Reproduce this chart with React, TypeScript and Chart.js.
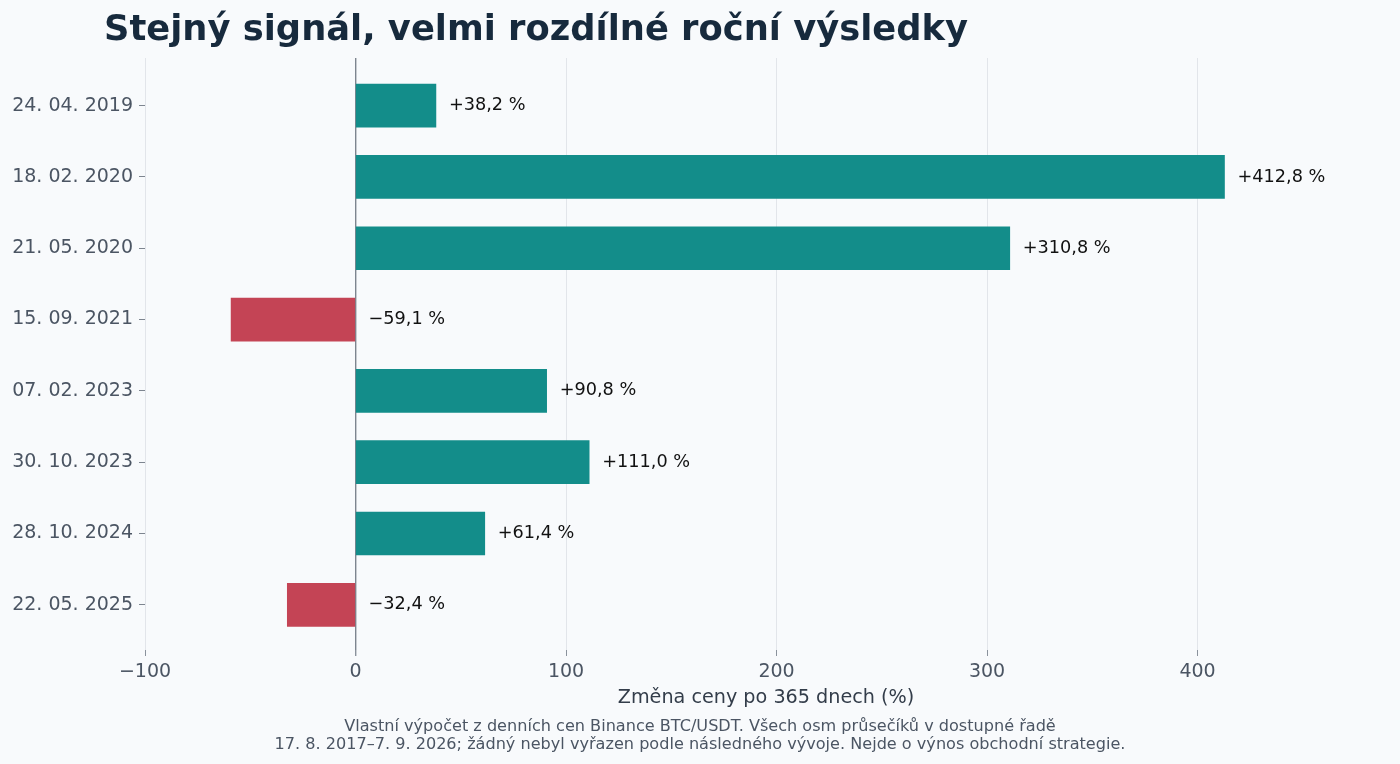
import React, { useEffect, useRef } from 'react';
import { Chart, registerables } from 'chart.js';

Chart.register(...registerables);

const dates = ['24. 04. 2019', '18. 02. 2020', '21. 05. 2020', '15. 09. 2021', '07. 02. 2023', '30. 10. 2023', '28. 10. 2024', '22. 05. 2025'];
const changes = [38.2, 412.8, 310.8, -59.1, 90.8, 111.0, 61.4, -32.4];
const xTicks = [-100, 0, 100, 200, 300, 400];

const TITLE = 'Stejný signál, velmi rozdílné roční výsledky';
const AXIS_TITLE = 'Změna ceny po 365 dnech (%)';
const NOTE = [
  'Vlastní výpočet z denních cen Binance BTC/USDT. Všech osm průsečíků v dostupné řadě',
  '17. 8. 2017–7. 9. 2026; žádný nebyl vyřazen podle následného vývoje. Nejde o výnos obchodní strategie.',
];

const FONT = '"DejaVu Sans", sans-serif';
const fmt = (v: number) => (v < 0 ? '\u2212' : '+') + Math.abs(v).toFixed(1).replace('.', ',') + ' %';

const textPlugin = {
  id: 'texts',
  afterDatasetsDraw(chart: any) {
    const { ctx, chartArea } = chart;
    const xs = chart.scales.x;
    const meta = chart.getDatasetMeta(0);
    ctx.save();
    // value labels
    ctx.font = `17.7px ${FONT}`;
    ctx.fillStyle = '#111111';
    ctx.textBaseline = 'middle';
    ctx.textAlign = 'left';
    meta.data.forEach((bar: any, i: number) => {
      const v = changes[i];
      const x = xs.getPixelForValue(Math.max(v, 0)) + 13;
      ctx.fillText(fmt(v), x, bar.y);
    });
    // title
    ctx.font = `bold 35.3px ${FONT}`;
    ctx.fillStyle = '#172a3d';
    ctx.fillText(TITLE, 104, 31);
    // axis title
    ctx.font = `19.2px ${FONT}`;
    ctx.fillStyle = '#333d4a';
    ctx.textAlign = 'center';
    ctx.fillText(AXIS_TITLE, (chartArea.left + chartArea.right) / 2, 698);
    // footnote
    ctx.font = `16.1px ${FONT}`;
    ctx.fillStyle = '#4b5563';
    ctx.fillText(NOTE[0], 700, 727);
    ctx.fillText(NOTE[1], 700, 745);
    ctx.restore();
  },
};

const App = () => {
  const chartRef = useRef<HTMLCanvasElement>(null);
  const chartInstance = useRef<Chart | null>(null);

  useEffect(() => {
    document.body.style.margin = '0';
    document.body.style.background = '#f8fafc';
    if (!chartRef.current) return;
    if (chartInstance.current) chartInstance.current.destroy();

    chartInstance.current = new Chart(chartRef.current, {
      type: 'bar',
      data: {
        datasets: [
          {
            data: changes.map((v, i) => ({ x: v, y: i })),
            backgroundColor: changes.map((v) => (v < 0 ? '#c44455' : '#138d8a')),
            borderWidth: 0,
            barThickness: 43,
          },
        ],
      },
      options: {
        indexAxis: 'y',
        animation: false,
        responsive: false,
        devicePixelRatio: 1,
        layout: { padding: { top: 58, right: 13, bottom: 0, left: 0 } },
        plugins: {
          legend: { display: false },
          tooltip: { enabled: false },
        },
        scales: {
          x: {
            type: 'linear',
            min: -100,
            max: 490,
            afterBuildTicks: (scale: any) => {
              scale.ticks = xTicks.map((v) => ({ value: v }));
            },
            afterFit: (scale: any) => {
              scale.height = 114;
            },
            border: { display: false },
            grid: {
              color: (c: any) => (c.tick && c.tick.value === 0 ? '#7d858f' : '#e2e5ea'),
              lineWidth: (c: any) => (c.tick && c.tick.value === 0 ? 1.4 : 1),
              tickColor: '#8a929c',
              tickLength: 6,
            },
            ticks: {
              font: { family: FONT, size: 19 },
              color: '#4b5563',
              padding: 5,
              callback: (v: any) => (v < 0 ? '\u2212' + Math.abs(v) : String(v)),
            },
          },
          y: {
            type: 'linear',
            reverse: true,
            offset: false,
            min: -0.667,
            max: 7.633,
            afterBuildTicks: (scale: any) => {
              scale.ticks = dates.map((_, i) => ({ value: i }));
            },
            afterFit: (scale: any) => {
              scale.width = 145;
            },
            border: { display: false },
            grid: {
              offset: false,
              drawOnChartArea: false,
              tickColor: '#7d858f',
              tickLength: 6,
            },
            ticks: {
              font: { family: FONT, size: 19 },
              color: '#4b5563',
              padding: 6,
              callback: (v: any) => dates[v],
            },
          },
        },
      },
      plugins: [textPlugin],
    });

    return () => {
      if (chartInstance.current) {
        chartInstance.current.destroy();
        chartInstance.current = null;
      }
    };
  }, []);

  return (
    <div style={{ width: 1400, height: 764, background: '#f8fafc' }}>
      <canvas ref={chartRef} width={1400} height={764} style={{ width: 1400, height: 764, display: 'block' }} />
    </div>
  );
};

export default App;
